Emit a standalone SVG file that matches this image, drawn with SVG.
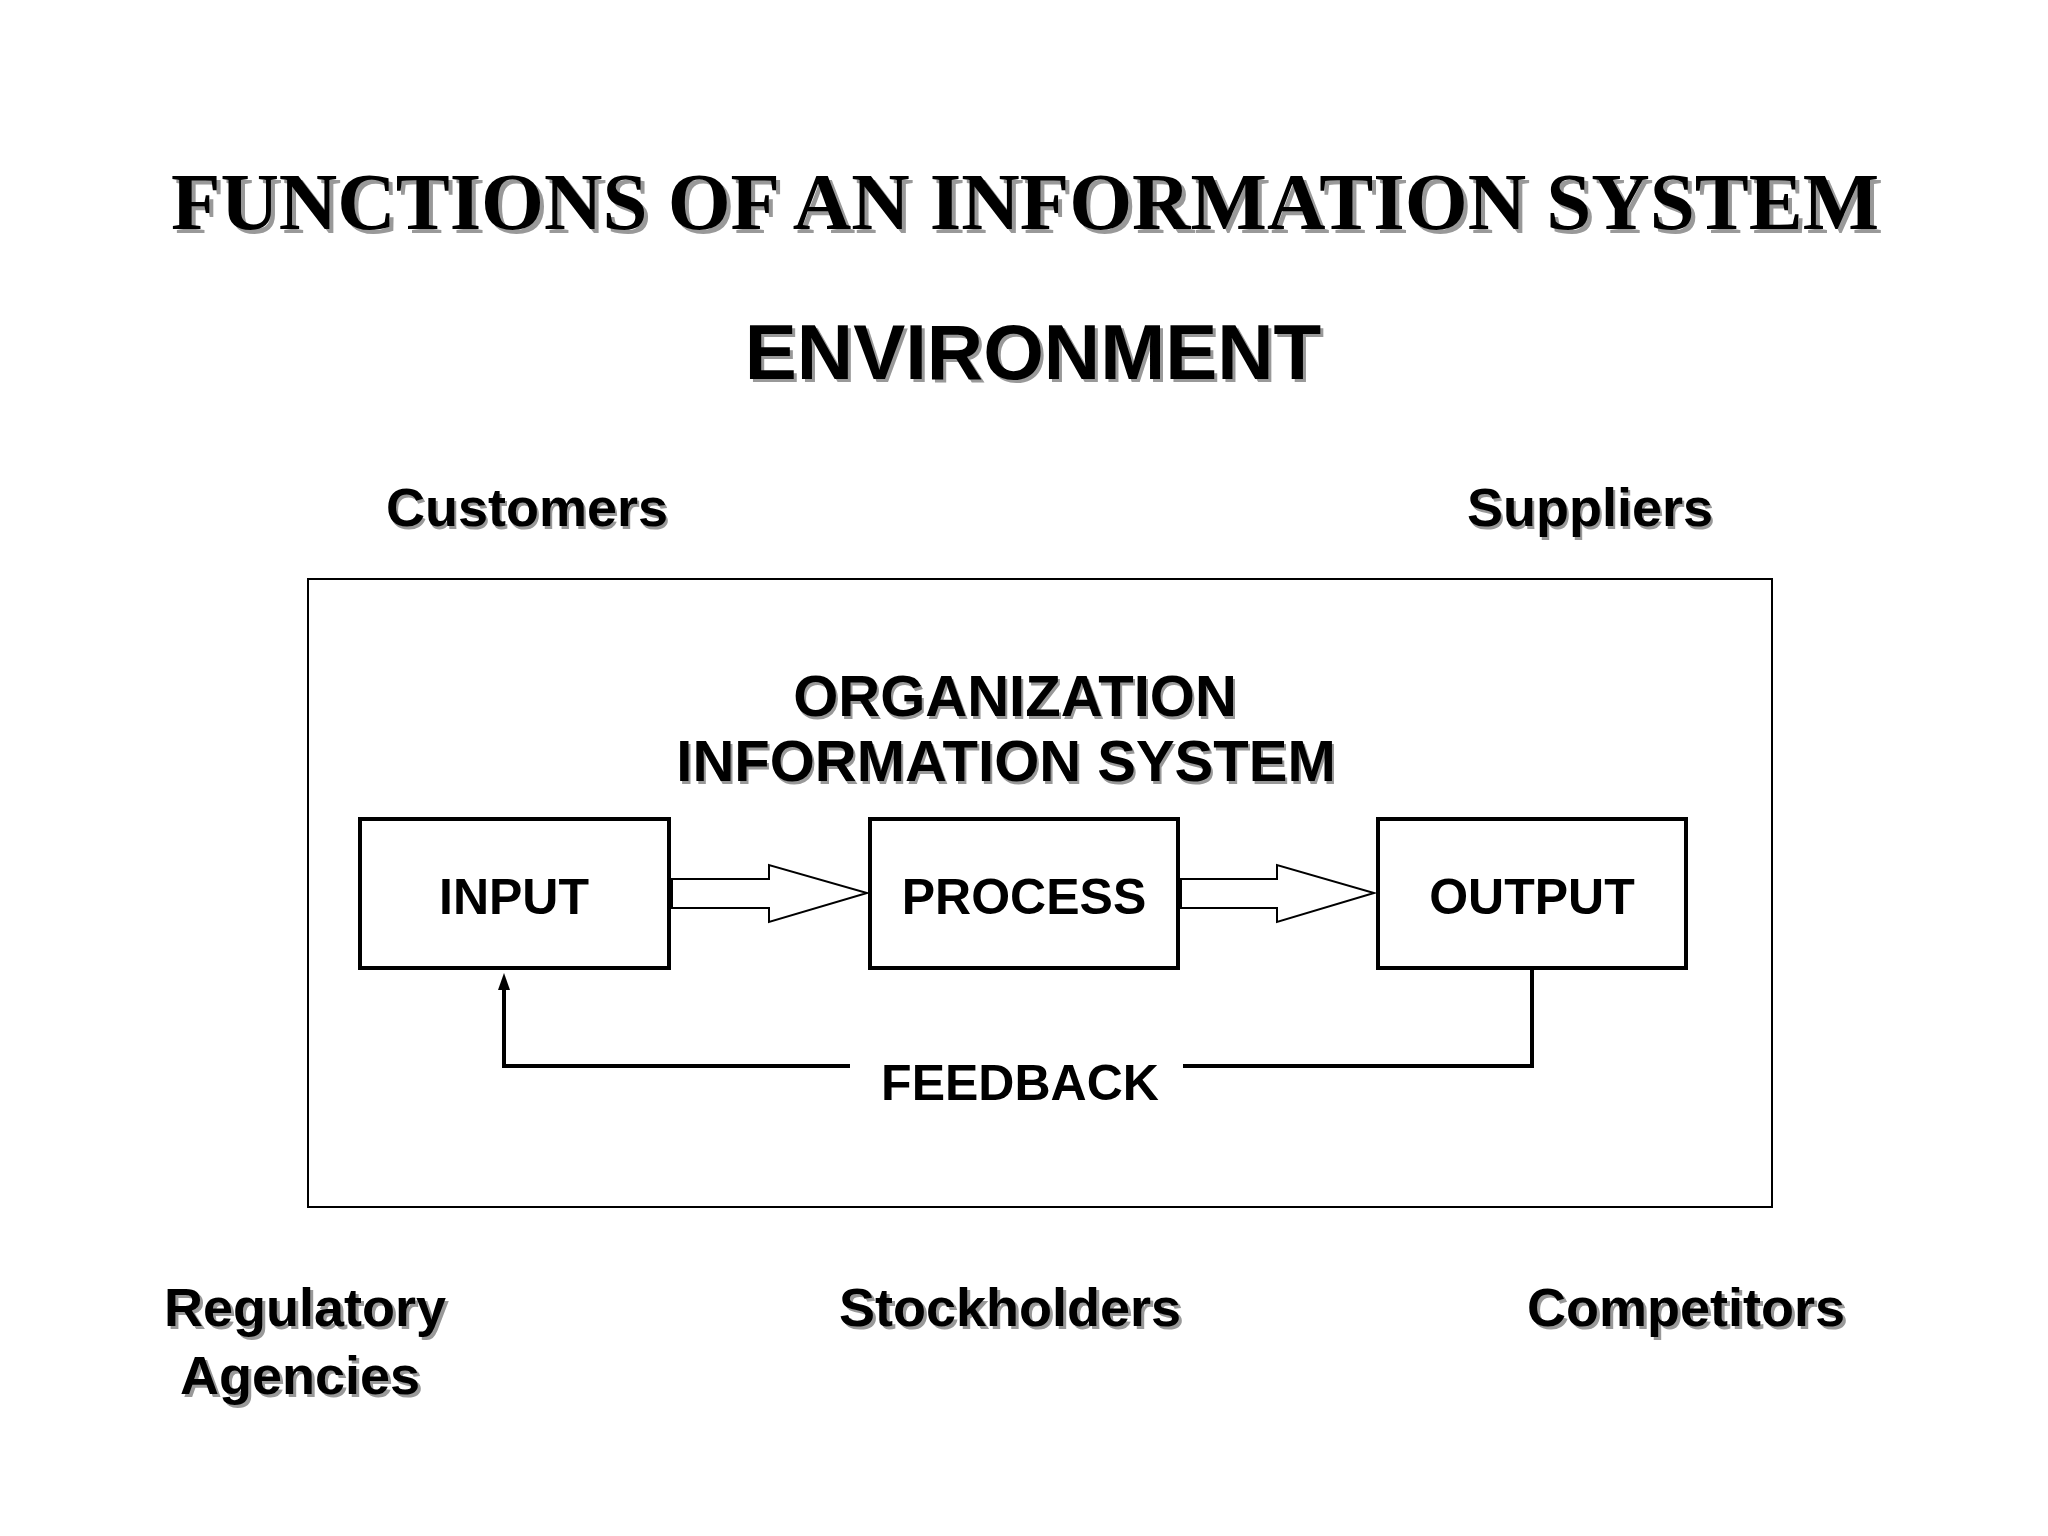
<svg xmlns="http://www.w3.org/2000/svg" width="2048" height="1536" viewBox="0 0 2048 1536">
<style>
.t{font-family:"Liberation Sans",Arial,sans-serif;font-weight:bold;fill:#000;text-anchor:middle}
.s{fill:#999}
.box{fill:#fff;stroke:#000;stroke-width:4}
.ln{fill:none;stroke:#000;stroke-width:4}
</style>
<rect width="2048" height="1536" fill="#fff"/>
<g id="title">
<text class="t s" x="1029" y="233" style="font-family:'Liberation Serif','Times New Roman',serif;font-size:80px" textLength="1708" lengthAdjust="spacingAndGlyphs">FUNCTIONS OF AN  INFORMATION SYSTEM</text>
<text class="t" x="1025" y="229" style="font-family:'Liberation Serif','Times New Roman',serif;font-size:80px" textLength="1708" lengthAdjust="spacingAndGlyphs">FUNCTIONS OF AN  INFORMATION SYSTEM</text>
</g>
<g id="environment">
<text class="t s" x="1036" y="382" font-size="78">ENVIRONMENT</text>
<text class="t" x="1033" y="379" font-size="78">ENVIRONMENT</text>
</g>
<g id="customers"><text class="t s" x="529" y="529" font-size="54">Customers</text><text class="t" x="527" y="526" font-size="54">Customers</text></g>
<g id="suppliers"><text class="t s" x="1592" y="529" font-size="54">Suppliers</text><text class="t" x="1590" y="526" font-size="54">Suppliers</text></g>
<g id="organization">
<rect x="308" y="579" width="1464" height="628" fill="none" stroke="#000" stroke-width="2"/>
<text class="t s" x="1017" y="719" font-size="58">ORGANIZATION</text><text class="t" x="1015" y="716" font-size="58">ORGANIZATION</text>
<text class="t s" x="1008" y="784" font-size="58">INFORMATION SYSTEM</text><text class="t" x="1006" y="781" font-size="58">INFORMATION SYSTEM</text>
</g>
<g id="input"><rect class="box" x="360" y="819" width="309" height="149"/><text class="t" x="514" y="914" font-size="50">INPUT</text></g>
<g id="process"><rect class="box" x="870" y="819" width="308" height="149"/><text class="t" x="1024" y="914" font-size="50">PROCESS</text></g>
<g id="output"><rect class="box" x="1378" y="819" width="308" height="149"/><text class="t" x="1532" y="914" font-size="50">OUTPUT</text></g>
<g id="connectors">
<polygon points="672,879 769,879 769,865 867,893 769,922 769,908 672,908" fill="#fff" stroke="#000" stroke-width="2"/>
<polygon points="1181,879 1277,879 1277,865 1374,893 1277,922 1277,908 1181,908" fill="#fff" stroke="#000" stroke-width="2"/>
<polyline class="ln" points="1532,968 1532,1066 1183,1066"/>
<polyline class="ln" points="850,1066 504,1066 504,988"/>
<polygon points="504,973 498,990 510,990" fill="#000"/>
<text class="t" x="1020" y="1100" font-size="50">FEEDBACK</text>
</g>
<g id="regulatory"><text class="t s" x="308" y="1329" font-size="54">Regulatory</text><text class="t" x="305" y="1326" font-size="54">Regulatory</text>
<text class="t s" x="303" y="1397" font-size="54">Agencies</text><text class="t" x="300" y="1394" font-size="54">Agencies</text></g>
<g id="stockholders"><text class="t s" x="1013" y="1329" font-size="54">Stockholders</text><text class="t" x="1010" y="1326" font-size="54">Stockholders</text></g>
<g id="competitors"><text class="t s" x="1689" y="1329" font-size="54">Competitors</text><text class="t" x="1686" y="1326" font-size="54">Competitors</text></g>
</svg>
